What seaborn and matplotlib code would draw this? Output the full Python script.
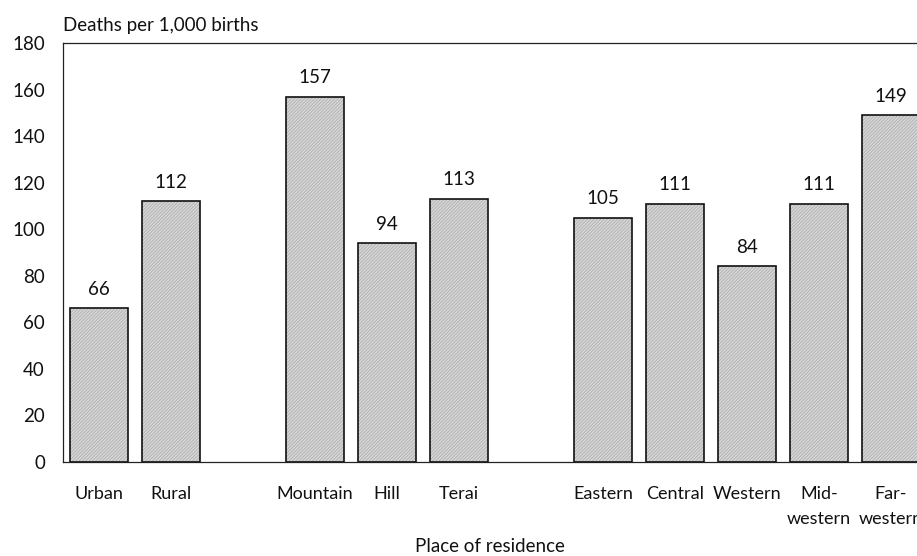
import matplotlib
matplotlib.use("Agg")
import matplotlib.pyplot as plt
import seaborn as sns
import pandas as pd

categories = ["Urban", "Rural", "Mountain", "Hill", "Terai",
              "Eastern", "Central", "Western", "Mid-\nwestern", "Far-\nwestern"]
values = [66, 112, 157, 94, 113, 105, 111, 84, 111, 149]
order = ["Urban", "Rural", " ", "Mountain", "Hill", "Terai", "  ",
         "Eastern", "Central", "Western", "Mid-\nwestern", "Far-\nwestern"]
yticks = [0, 20, 40, 60, 80, 100, 120, 140, 160, 180]

sns.set_theme(style="white")
plt.rcParams["font.family"] = ["Lato", "DejaVu Sans"]
plt.rcParams["hatch.linewidth"] = 0.5

df = pd.DataFrame({"place": categories, "deaths": values})

fig = plt.figure(figsize=(9.17, 5.56), dpi=100)
ax = fig.add_axes([63 / 917, 1 - 462 / 556, 864 / 917, 419 / 556])

# hatched gray fill
sns.barplot(data=df, x="place", y="deaths", order=order, ax=ax,
            color="#d6d6d6", width=0.8, edgecolor="#a8a8a8", linewidth=0,
            saturation=1, errorbar=None, hatch="//////////")
n_fill = len(ax.patches)
# black outlines
sns.barplot(data=df, x="place", y="deaths", order=order, ax=ax,
            fill=False, width=0.8, edgecolor="#111111", linewidth=1.2,
            errorbar=None)

for p in ax.patches[:n_fill]:
    h = p.get_height()
    if h == h and h > 0:
        ax.text(p.get_x() + p.get_width() / 2, h + 4.5, f"{int(round(h))}",
                ha="center", va="bottom", fontsize=13.5, color="#111111")

ax.set_xlim(-0.5, 11.5)
ax.set_ylim(0, 180)
ax.set_yticks(yticks)
ax.set_yticklabels([str(t) for t in yticks])
ax.tick_params(axis="both", length=0, labelsize=13.5, colors="#111111")
ax.tick_params(axis="y", pad=13)
ax.tick_params(axis="x", pad=17)
ax.set_xticks(range(len(order)))
ax.set_xticklabels([o if o.strip() else "" for o in order], fontsize=13,
                   linespacing=1.75, va="top")
ax.set_xlabel("")
ax.set_ylabel("")
for s in ["left", "top", "bottom", "right"]:
    ax.spines[s].set_visible(True)
    ax.spines[s].set_color("#222222")
    ax.spines[s].set_linewidth(0.9)

fig.text(63 / 917, 1 - 25 / 556, "Deaths per 1,000 births", ha="left",
         va="center", fontsize=13.5, color="#111111")
fig.text(490 / 917, 1 - 547 / 556, "Place of residence", ha="center",
         va="center", fontsize=13.5, color="#111111")

fig.savefig("out.png", dpi=100)
